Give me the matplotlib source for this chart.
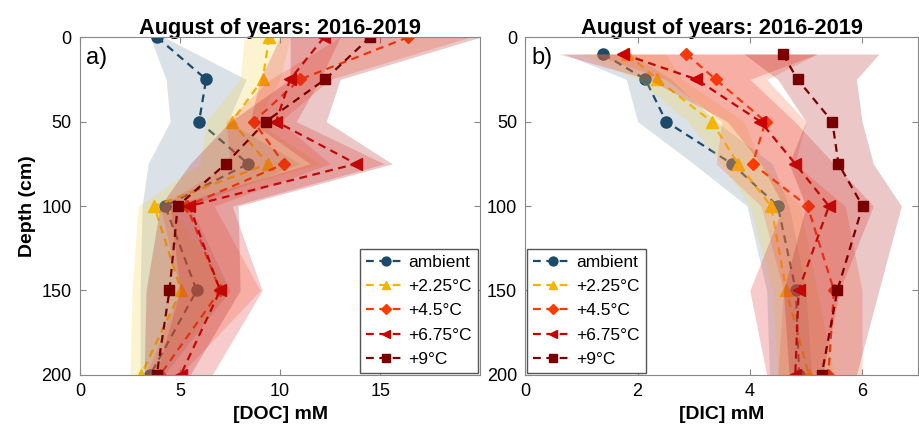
import matplotlib
matplotlib.use("Agg")
import matplotlib.pyplot as plt
import numpy as np

plt.rcParams['font.family'] = ['Liberation Sans', 'DejaVu Sans']

labels = ['ambient', '+2.25°C', '+4.5°C', '+6.75°C', '+9°C']
colors = ['#1b4a6b', '#f5b400', '#ff3a00', '#c80000', '#7a0000']
markers = ['o', '^', 'D', '<', 's']

# Panel a: DOC
depth_a = [0, 25, 50, 75, 100, 150, 200]
doc_ambient = [3.85, 6.3, 5.95, 8.4, 4.25, 5.83, 3.5]
doc_225 = [9.45, 9.13, 7.58, 9.4, 3.7, 5.05, 3.05]
doc_45 = [16.4, 11.0, 8.67, 10.2, 5.33, 7.0, 4.0]
doc_675 = [12.2, 10.5, 9.8, 13.8, 5.47, 7.0, 5.03]
doc_9 = [14.5, 12.25, 9.28, 7.28, 4.88, 4.47, 3.83]

doc_ambient_lo = [3.5, 4.3, 4.5, 3.4, 3.1, 3.0, 3.0]
doc_ambient_hi = [4.2, 8.3, 7.4, 11.0, 5.5, 7.5, 4.2]
doc_225_lo = [8.2, 8.0, 6.3, 6.0, 2.9, 2.6, 2.5]
doc_225_hi = [10.5, 10.0, 8.8, 12.0, 4.5, 7.5, 3.8]
doc_45_lo = [13.0, 9.5, 7.3, 7.5, 4.0, 5.0, 3.3]
doc_45_hi = [19.5, 12.5, 10.0, 12.5, 6.7, 9.0, 5.0]
doc_675_lo = [10.0, 9.0, 8.5, 11.5, 4.5, 5.0, 3.8]
doc_675_hi = [13.0, 12.0, 10.8, 15.2, 7.6, 9.1, 6.6]
doc_9_lo = [10.5, 10.5, 7.5, 5.5, 4.0, 3.3, 3.2]
doc_9_hi = [20.0, 13.0, 12.3, 15.6, 7.9, 8.0, 5.5]

# Panel b: DIC
depth_b = [10, 25, 50, 75, 100, 150, 200]
dic_ambient = [1.39, 2.14, 2.51, 3.68, 4.5, 4.82, 4.88]
dic_225 = [1.82, 2.35, 3.32, 3.79, 4.38, 4.65, 5.05]
dic_45 = [2.87, 3.39, 4.28, 4.05, 5.03, 5.5, 5.4]
dic_675 = [1.74, 3.05, 4.19, 4.81, 5.41, 4.87, 4.81]
dic_9 = [4.59, 4.85, 5.47, 5.58, 6.01, 5.56, 5.28]

dic_ambient_lo = [0.7, 1.8, 2.0, 3.0, 3.95, 4.3, 4.35]
dic_ambient_hi = [1.9, 2.6, 3.4, 4.4, 4.7, 5.0, 5.1]
dic_225_lo = [1.0, 2.0, 2.9, 3.5, 4.0, 4.4, 4.5]
dic_225_hi = [2.5, 2.8, 3.9, 4.2, 4.9, 5.2, 5.5]
dic_45_lo = [1.2, 2.5, 3.5, 3.4, 4.2, 4.6, 4.5]
dic_45_hi = [5.2, 4.3, 5.0, 4.8, 5.7, 6.0, 6.0]
dic_675_lo = [0.6, 2.2, 3.6, 4.2, 4.6, 4.0, 4.3]
dic_675_hi = [5.2, 4.0, 4.8, 5.5, 6.2, 5.6, 5.3]
dic_9_lo = [3.9, 4.5, 5.0, 4.7, 5.0, 4.6, 4.7]
dic_9_hi = [6.3, 5.9, 6.0, 6.2, 6.7, 6.3, 5.9]

band_colors = ['#6f8ba3', '#f7d34a', '#ff6a3a', '#e03030', '#b02020']

fig = plt.figure(figsize=(9.2, 4.37), dpi=100)
axa = fig.add_axes([0.087, 0.142, 0.435, 0.773])
axb = fig.add_axes([0.571, 0.142, 0.427, 0.773])

def panel(ax, depth, vals, los, his, xmax, xticks, xlabel, letter, legloc):
    handles = []
    z = 1
    for v, lo, hi, bc, c, m, lab in zip(vals, los, his, band_colors, colors, markers, labels):
        ax.fill_betweenx(depth, lo, hi, color=bc, alpha=0.25, linewidth=0, zorder=z)
        ms = 6.5 if m == 'D' else 8
        if m == 's':
            ms = 7
        h, = ax.plot(v, depth, linestyle=(0, (3.5, 2.5)), color=c, lw=1.6,
                     marker=m, markersize=ms, markeredgecolor=c, markerfacecolor=c,
                     label=lab, zorder=z + 0.5)
        handles.append(h)
        z += 1
    ax.set_xlim(0, xmax)
    ax.set_ylim(200, 0)
    ax.set_xticks(xticks)
    ax.set_yticks([0, 50, 100, 150, 200])
    ax.tick_params(direction='in', top=True, right=True, labelsize=13, length=4,
                   color='#888888', pad=6)
    for s in ax.spines.values():
        s.set_color('#888888')
        s.set_zorder(20)
    ax.set_xlabel(xlabel, fontsize=14, fontweight='bold')
    ax.set_title('August of years: 2016-2019', fontsize=15.7, fontweight='bold', pad=2)
    ax.text(0.015, 0.97, letter, transform=ax.transAxes, fontsize=17, va='top',
            ha='left', zorder=30)
    leg = ax.legend(handles=handles, loc=legloc, fontsize=12.5, fancybox=False,
                    framealpha=1, edgecolor='#555555', handlelength=2.3,
                    borderpad=0.35, labelspacing=0.52, handletextpad=0.15,
                    borderaxespad=0.12, markerscale=0.8)
    leg.set_zorder(40)
    leg.get_frame().set_linewidth(1.0)

panel(axa, depth_a, [doc_ambient, doc_225, doc_45, doc_675, doc_9],
      [doc_ambient_lo, doc_225_lo, doc_45_lo, doc_675_lo, doc_9_lo],
      [doc_ambient_hi, doc_225_hi, doc_45_hi, doc_675_hi, doc_9_hi],
      20, [0, 5, 10, 15], '[DOC] mM', 'a)', 'lower right')
panel(axb, depth_b, [dic_ambient, dic_225, dic_45, dic_675, dic_9],
      [dic_ambient_lo, dic_225_lo, dic_45_lo, dic_675_lo, dic_9_lo],
      [dic_ambient_hi, dic_225_hi, dic_45_hi, dic_675_hi, dic_9_hi],
      7, [0, 2, 4, 6], '[DIC] mM', 'b)', 'lower left')
axa.set_ylabel('Depth (cm)', fontsize=14, fontweight='bold')

fig.savefig('out.png', dpi=100)
